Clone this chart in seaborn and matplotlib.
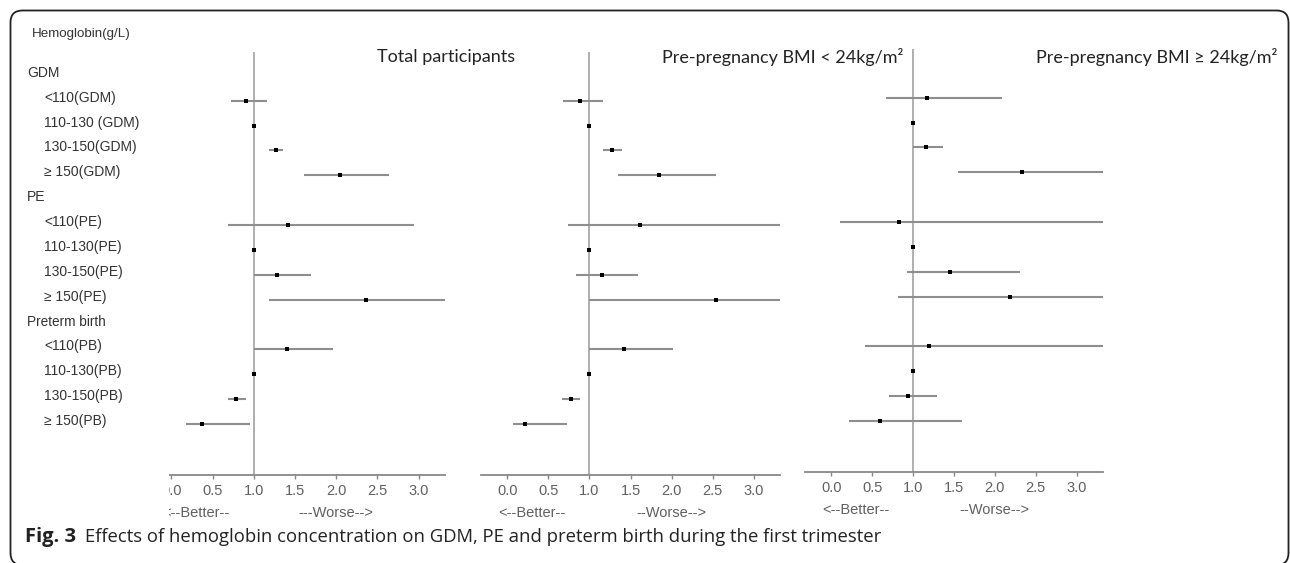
# Forest plot: hemoglobin concentration vs GDM, PE and preterm birth (first trimester)

import matplotlib
matplotlib.use("Agg")
import matplotlib.pyplot as plt
import matplotlib.transforms as mtransforms
from matplotlib.patches import FancyBboxPatch, Rectangle
import pandas as pd
import seaborn as sns

sns.set_theme(style="white")
plt.rcParams['font.family'] = ['Liberation Sans', 'DejaVu Sans']

# ---- data ----
headers = ["GDM", "PE", "Preterm birth"]
categories = [
    ["<110(GDM)", "110-130 (GDM)", "130-150(GDM)", "≥ 150(GDM)"],
    ["<110(PE)", "110-130(PE)", "130-150(PE)", "≥ 150(PE)"],
    ["<110(PB)", "110-130(PB)", "130-150(PB)", "≥ 150(PB)"],
]

# total participants
or_total = [0.90, 1.00, 1.27, 2.05, 1.41, 1.00, 1.28, 2.36, 1.40, 1.00, 0.78, 0.37]
lo_total = [0.72, 1.00, 1.18, 1.61, 0.69, 1.00, 1.00, 1.19, 1.00, 1.00, 0.69, 0.18]
hi_total = [1.16, 1.00, 1.36, 2.64, 2.94, 1.00, 1.69, 3.60, 1.96, 1.00, 0.90, 0.96]

# pre-pregnancy BMI < 24
or_low = [0.88, 1.00, 1.28, 1.85, 1.62, 1.00, 1.15, 2.54, 1.42, 1.00, 0.77, 0.22]
lo_low = [0.68, 1.00, 1.17, 1.35, 0.74, 1.00, 0.84, 1.00, 1.00, 1.00, 0.66, 0.07]
hi_low = [1.16, 1.00, 1.40, 2.54, 3.60, 1.00, 1.59, 3.60, 2.02, 1.00, 0.89, 0.73]

# pre-pregnancy BMI >= 24
or_high = [1.17, 1.00, 1.16, 2.33, 0.83, 1.00, 1.45, 2.19, 1.19, 1.00, 0.94, 0.60]
lo_high = [0.67, 1.00, 1.00, 1.55, 0.11, 1.00, 0.92, 0.82, 0.41, 1.00, 0.71, 0.22]
hi_high = [2.09, 1.00, 1.37, 3.60, 3.60, 1.00, 2.31, 3.60, 3.60, 1.00, 1.29, 1.60]

xticks = [0.0, 0.5, 1.0, 1.5, 2.0, 2.5, 3.0]
titles = ["Total participants", "Pre-pregnancy BMI < 24kg/m²", "Pre-pregnancy BMI ≥ 24kg/m²"]

# row layout: header row followed by its categories
header_rows, cat_rows, cat_labels = [], [], []
r = 0
for h, cats in zip(headers, categories):
    header_rows.append(r)
    r += 1
    for c in cats:
        cat_rows.append(r)
        cat_labels.append(c)
        r += 1

W, H = 1290, 563
fig = plt.figure(figsize=(W / 100, H / 100), dpi=100)


def fx(px):
    return px / W


def fy(py):
    return 1 - py / H


# panel boxes in pixels: left, right, top, bottom
panels = [
    (145, 445, 52, 475),
    (481, 780, 52, 475),
    (805, 1103, 49, 472),
]
series = [(or_total, lo_total, hi_total), (or_low, lo_low, hi_low), (or_high, lo_high, hi_high)]
worse_text = ["---Worse-->", "--Worse-->", "--Worse-->"]

axes = []
for (l, rgt, t, b), (est, lo, hi), wt in zip(panels, series, worse_text):
    ax = fig.add_axes([fx(l), fy(b), (rgt - l) / W, (b - t) / H])
    df = pd.DataFrame({"row": cat_rows, "est": est, "lo": lo, "hi": hi})
    ax.axvline(1.0, color="#9a9a9a", lw=1.1, zorder=1)
    ax.hlines(df["row"], df["lo"], df["hi"], color="#8e8e8e", lw=1.5, zorder=2)
    sns.scatterplot(data=df, x="est", y="row", marker="s", color="black",
                    s=12.5, linewidth=0, ax=ax, zorder=3)
    ax.set_xlim(-0.32, 3.32)
    ax.set_ylim(16.05, -0.96)
    ax.set_yticks([])
    ax.set_xticks(xticks)
    ax.set_xticklabels([f"{v:.1f}" for v in xticks])
    ax.set_xlabel("")
    ax.set_ylabel("")
    ax.patch.set_alpha(0)
    sns.despine(ax=ax, left=True)
    ax.spines["bottom"].set_color("#888888")
    ax.spines["bottom"].set_linewidth(1.3)
    ax.tick_params(axis="x", bottom=True, direction="out", length=3, width=1,
                   color="#888888", pad=3.5, labelsize=10.5, labelcolor="#606060")
    lab_tr = mtransforms.offset_copy(ax.get_xaxis_transform(), fig=fig, y=-38, units="dots")
    ax.text(0.3, 0, "<--Better--", transform=lab_tr, ha="center", va="center",
            fontsize=10.5, color="#606060")
    ax.text(2.0, 0, wt, transform=lab_tr, ha="center", va="center",
            fontsize=10.5, color="#606060")
    axes.append(ax)

# row labels on the left, aligned with the data rows of the first panel
row_tr = mtransforms.blended_transform_factory(fig.transFigure, axes[0].transData)
for h, rr in zip(headers, header_rows):
    fs = 9.8 if h == "Preterm birth" else 10
    fig.text(fx(27), rr - 0.12, h, transform=row_tr, ha="left", va="center",
             fontsize=fs, color="#333333")
for c, rr in zip(cat_labels, cat_rows):
    fig.text(fx(44), rr - 0.12, c, transform=row_tr, ha="left", va="center",
             fontsize=10, color="#333333")
fig.text(fx(32), fy(34), "Hemoglobin(g/L)", ha="left", va="center", fontsize=9.6, color="#333333")

# panel titles
for x0, ttl in zip([377, 662, 1036], titles):
    fig.text(fx(x0), fy(57), ttl, ha="left", va="center", fontsize=13,
             family=["Lato", "DejaVu Sans"], color="#222222")

# first panel is cropped on the left in the original
fig.add_artist(Rectangle((fx(138), fy(525)), fx(169) - fx(138), 55 / H,
                         facecolor="white", edgecolor="none", zorder=10))

# caption
fig.text(fx(25), fy(537), "Fig. 3", ha="left", va="center", fontsize=14.5,
         weight="bold", family=["Open Sans", "DejaVu Sans"], color="#222222")
fig.text(fx(85), fy(537),
         "Effects of hemoglobin concentration on GDM, PE and preterm birth during the first trimester",
         ha="left", va="center", fontsize=13.3, family=["Open Sans", "DejaVu Sans"], color="#222222")

# rounded frame (bottom edge falls just outside the picture)
fig.add_artist(FancyBboxPatch((10.5, -2), 1278, 554.5,
                              boxstyle="round,pad=0,rounding_size=12",
                              transform=mtransforms.IdentityTransform(),
                              fill=False, edgecolor="#222222", linewidth=1.3))

fig.savefig("out.png", dpi=100)
